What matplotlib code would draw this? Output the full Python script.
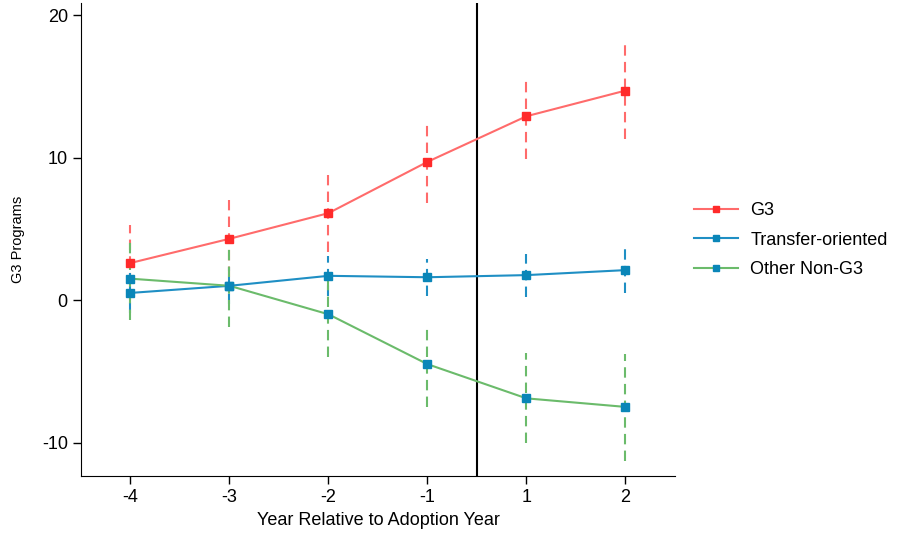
import matplotlib
matplotlib.use("Agg")
import matplotlib.pyplot as plt
import numpy as np

plt.rcParams['font.family'] = ['Liberation Sans', 'DejaVu Sans']
plt.rcParams['axes.unicode_minus'] = False

years = ["-4", "-3", "-2", "-1", "1", "2"]
g3 = [2.6, 4.3, 6.1, 9.7, 12.9, 14.7]
g3_lo = [0.0, 1.6, 3.4, 6.8, 9.9, 11.3]
g3_hi = [5.3, 7.0, 8.8, 12.5, 15.7, 18.1]
transfer = [0.5, 1.0, 1.7, 1.6, 1.75, 2.1]
transfer_lo = [-0.9, -0.3, 0.3, 0.3, 0.2, 0.5]
transfer_hi = [1.9, 2.3, 3.1, 2.9, 3.2, 3.8]
other = [1.5, 1.0, -1.0, -4.5, -6.9, -7.5]
other_lo = [-1.4, -1.9, -4.0, -7.5, -10.0, -11.3]
other_hi = [4.4, 4.0, 1.5, -1.8, -3.7, -3.8]
labels = ["G3", "Transfer-oriented", "Other Non-G3"]

fig = plt.figure(figsize=(9.04, 5.4), dpi=100)
ax = fig.add_axes([0.0896, 0.1185, 0.657, 0.876])

x = np.arange(len(years))
series = [
    (g3, g3_lo, g3_hi, "#ff6b6b", "#ff2a2a"),
    (transfer, transfer_lo, transfer_hi, "#1f8fc4", "#0a86b8"),
    (other, other_lo, other_hi, "#6bbb6b", "#0a86b8"),
]
for (v, lo, hi, lc, mc), lab in zip(series, labels):
    ax.vlines(x, lo, hi, colors=lc, linestyles=(0, (5, 3)), linewidth=1.5, zorder=2)
for (v, lo, hi, lc, mc), lab in zip(series, labels):
    ax.plot(x, v, color=lc, linewidth=1.5, marker='s', markersize=6,
            markerfacecolor=mc, markeredgecolor=mc, label=lab, zorder=3)

ax.axvline(3.5, color='black', linewidth=1.5, zorder=1)

ax.set_xlim(-0.5, 5.5)
ax.set_ylim(-12.35, 20.85)
ax.set_xticks(x)
ax.set_xticklabels(years)
ax.set_yticks([-10, 0, 10, 20])
ax.tick_params(axis='both', labelsize=13, length=6, width=1, direction='out')
ax.spines['top'].set_visible(False)
ax.spines['right'].set_visible(False)
ax.set_xlabel("Year Relative to Adoption Year", fontsize=13)
ax.set_ylabel("G3 Programs", fontsize=10.5, labelpad=12)

fig.legend(loc='center left', bbox_to_anchor=(0.75, 0.555), frameon=False,
           fontsize=13, handlelength=2.4, handletextpad=0.7,
           labelspacing=0.7, markerscale=0.8)

fig.savefig("out.png", dpi=100)
